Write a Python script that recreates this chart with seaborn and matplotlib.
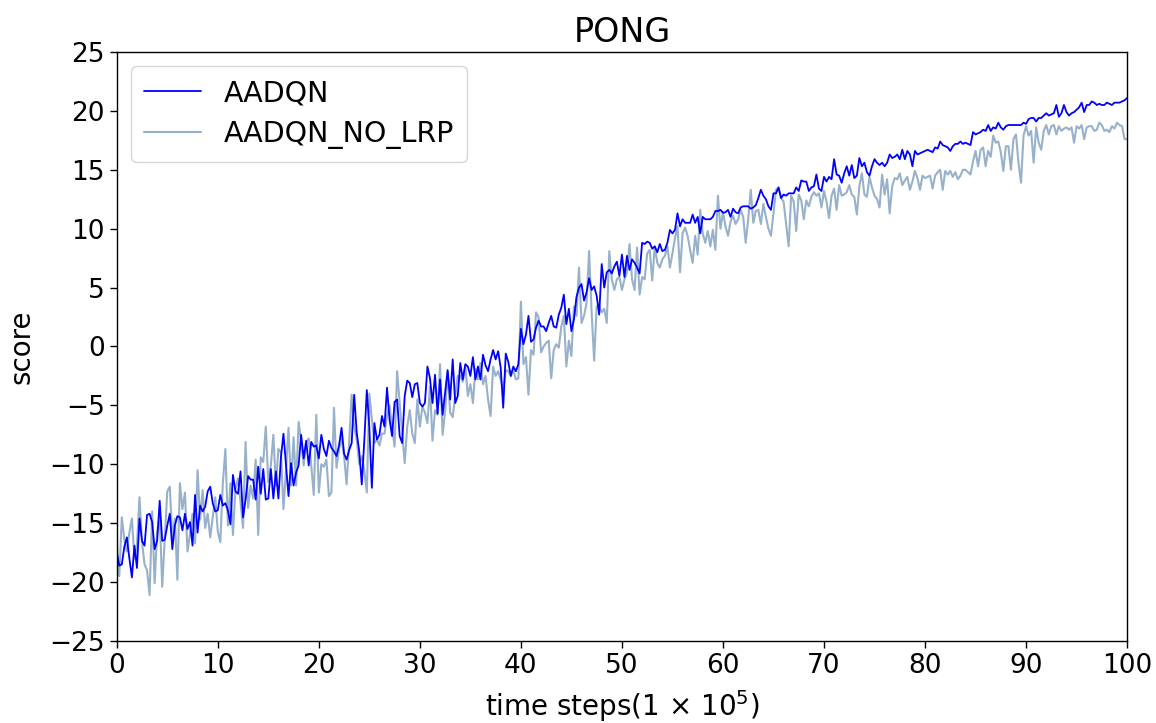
import numpy as np
import pandas as pd
import matplotlib
matplotlib.use("Agg")
import matplotlib.pyplot as plt
import seaborn as sns

# time steps (x 1e5), sampled every 0.25
steps = np.arange(401) * 0.25

# AADQN scores, by 20-step segment
aadqn_0_20 = [-17.5, -18.6, -18.5, -17.0, -16.2, -18.0, -19.6, -16.9, -18.8, -14.6,
              -16.5, -16.9, -14.3, -14.2, -14.9, -17.2, -16.5, -13.1, -16.5, -16.4,
              -15.2, -14.2, -17.2, -15.2, -14.4, -14.5, -15.6, -14.2, -15.5, -14.9,
              -16.9, -12.6, -15.8, -13.5, -14.0, -13.6, -12.3, -11.9, -13.3, -14.0,
              -13.9, -12.6, -13.5, -13.3, -13.9, -15.1, -10.9, -12.3, -12.5, -10.6,
              -14.5, -13.0, -11.0, -11.3, -11.3, -13.0, -10.2, -12.5, -10.4, -13.0,
              -12.9, -10.4, -12.9, -10.6, -12.9, -9.4, -7.4, -10.0, -12.7, -9.9,
              -11.8, -10.7, -10.1, -7.5, -9.5, -8.0, -10.1, -8.1, -8.5, -8.4]
aadqn_20_40 = [-9.5, -7.5, -8.7, -9.3, -8.0, -8.6, -8.9, -9.3, -8.4, -6.9,
               -9.1, -9.6, -8.8, -8.2, -4.1, -7.3, -8.9, -11.7, -8.0, -3.7,
               -6.9, -12.0, -6.5, -7.9, -7.5, -5.9, -6.8, -3.5, -6.2, -7.6,
               -4.7, -4.5, -7.6, -8.2, -4.2, -2.9, -3.1, -4.3, -3.2, -3.1,
               -4.8, -5.1, -4.8, -1.7, -2.7, -4.8, -2.4, -5.7, -2.8, -5.8,
               -3.9, -2.0, -4.5, -1.1, -4.8, -4.2, -1.4, -2.8, -1.5, -1.7,
               -2.5, -0.9, -2.8, -1.7, -2.8, -0.7, -1.6, -2.1, -1.1, -0.3,
               -1.1, -0.4, -1.8, -5.2, -0.6, -1.3, -2.5, -1.7, -2.1, -1.5]
aadqn_40_60 = [1.5, 0.2, 1.0, 2.6, 0.4, 0.6, 1.6, 2.2, 1.7, 1.7,
               1.3, 2.0, 2.6, 1.7, 1.6, 2.7, 3.3, 4.4, 1.9, 3.2,
               1.3, 2.3, 4.2, 5.0, 5.3, 3.9, 4.6, 5.8, 4.8, 5.1,
               4.3, 2.7, 7.0, 5.0, 6.3, 6.5, 6.2, 6.8, 7.2, 6.0,
               7.8, 5.9, 7.7, 6.5, 7.4, 7.1, 6.7, 6.2, 8.8, 8.7,
               8.9, 8.8, 8.3, 8.5, 8.0, 8.7, 8.1, 8.2, 8.8, 9.9,
               9.6, 9.9, 11.3, 10.2, 10.8, 10.5, 10.5, 10.5, 11.2, 10.5,
               11.0, 9.6, 11.0, 10.8, 10.8, 10.8, 11.0, 11.5, 11.5, 11.6]
aadqn_60_80 = [11.35, 11.4, 11.6, 11.0, 11.7, 11.4, 11.3, 11.8, 11.9, 11.9,
               11.9, 11.7, 11.8, 12.0, 12.6, 13.3, 12.8, 12.5, 11.9, 11.6,
               13.0, 13.0, 13.5, 12.6, 12.9, 12.8, 13.0, 13.0, 13.0, 13.5,
               13.2, 14.1, 14.0, 14.0, 13.2, 13.5, 13.6, 14.6, 13.4, 13.2,
               14.4, 14.0, 14.4, 14.2, 15.9, 14.6, 14.5, 13.9, 14.7, 15.3,
               14.5, 15.4, 14.3, 14.5, 16.0, 15.3, 15.6, 14.8, 14.5, 15.3,
               15.9, 15.6, 15.4, 15.6, 15.3, 15.6, 16.3, 16.0, 16.1, 16.3,
               15.9, 16.7, 15.9, 16.6, 16.3, 15.3, 16.6, 16.3, 16.4, 16.5]
aadqn_80_100 = [16.6, 16.7, 16.6, 16.5, 16.9, 16.8, 17.4, 17.1, 17.0, 16.9,
                16.6, 17.0, 17.2, 17.2, 17.4, 17.2, 17.3, 17.2, 17.1, 18.2,
                18.0, 18.1, 18.2, 18.4, 18.3, 18.8, 18.3, 18.6, 18.5, 19.0,
                18.6, 18.4, 18.7, 18.8, 18.8, 18.8, 18.8, 18.8, 18.8, 19.0,
                18.9, 19.3, 19.4, 19.4, 19.1, 19.4, 19.4, 19.6, 19.8, 19.6,
                19.7, 19.8, 20.5, 19.5, 19.8, 20.5, 19.9, 19.6, 19.8, 19.9,
                20.1, 20.3, 20.7, 19.9, 20.5, 20.5, 20.8, 20.7, 20.5, 20.6,
                20.5, 20.5, 20.7, 20.6, 20.5, 20.7, 20.7, 20.7, 20.8, 20.9,
                21.1]

# AADQN_NO_LRP scores, by 20-step segment
nolrp_0_20 = [-16.6, -19.5, -14.5, -16.4, -17.4, -15.8, -14.6, -18.0, -16.9, -12.8,
              -16.6, -18.5, -19.0, -21.1, -14.0, -20.1, -15.7, -14.3, -20.4, -16.3,
              -12.3, -11.9, -16.3, -14.6, -19.8, -11.6, -13.8, -12.4, -17.4, -15.9,
              -14.2, -16.7, -10.5, -14.7, -12.2, -15.4, -14.2, -16.2, -14.5, -12.8,
              -15.7, -16.6, -11.6, -8.7, -15.2, -11.6, -16.0, -12.1, -11.2, -13.2,
              -15.4, -8.1, -13.7, -11.8, -12.9, -9.6, -16.0, -9.4, -9.8, -6.8,
              -11.5, -10.1, -7.5, -11.8, -8.7, -9.0, -13.8, -10.5, -6.9, -11.8,
              -7.7, -11.8, -6.4, -8.0, -10.1, -8.1, -7.8, -10.1, -12.6, -5.8]
nolrp_20_40 = [-12.4, -10.0, -10.2, -9.6, -12.7, -12.4, -5.2, -10.3, -8.7, -7.8,
               -9.3, -11.7, -8.2, -4.1, -6.8, -7.9, -10.0, -9.3, -10.5, -12.4,
               -4.0, -6.2, -8.2, -7.9, -8.4, -7.4, -7.4, -5.9, -5.0, -6.9,
               -8.5, -2.1, -4.8, -7.3, -9.9, -6.8, -5.4, -7.4, -8.2, -4.5,
               -6.8, -5.1, -5.6, -6.5, -3.4, -8.0, -5.4, -5.8, -1.5, -7.5,
               -5.5, -2.1, -5.6, -6.0, -4.2, -2.5, -2.5, -3.0, -1.7, -4.2,
               -3.2, -4.8, -1.9, -2.8, -1.4, -3.2, -2.5, -4.5, -5.9, -1.7,
               -2.5, -2.1, -2.8, -3.7, -2.0, -2.1, -2.5, -2.0, -2.8, -2.7]
nolrp_40_60 = [3.8, -1.5, -0.9, -4.1, -0.3, -0.7, 2.9, 2.5, -0.5, 0.0,
               0.3, 0.5, -2.7, -0.3, 0.2, -0.1, 1.7, 2.6, -1.7, 0.5,
               -0.8, 3.4, 2.6, 6.7, 2.0, 2.6, 3.7, 8.1, 2.9, -1.2,
               3.4, 3.4, 2.9, 3.2, 2.0, 8.1, 5.7, 4.8, 5.7, 5.9,
               4.8, 5.7, 6.3, 8.7, 5.7, 4.8, 8.4, 4.4, 5.9, 5.7,
               7.9, 8.2, 5.6, 8.5, 7.1, 6.7, 7.4, 7.7, 8.5, 6.7,
               7.9, 9.2, 10.2, 6.3, 9.6, 10.1, 9.4, 8.2, 7.1, 9.4,
               7.8, 11.6, 9.6, 8.8, 9.8, 8.5, 9.9, 8.2, 12.8, 10.0]
nolrp_60_80 = [11.4, 10.2, 9.4, 10.6, 11.1, 10.4, 10.8, 11.6, 11.0, 8.8,
               10.8, 13.3, 10.5, 11.5, 11.6, 10.4, 12.1, 11.0, 10.0, 9.4,
               11.3, 13.3, 13.5, 12.6, 12.3, 10.4, 8.5, 12.8, 12.3, 9.8,
               12.9, 12.4, 10.8, 12.4, 11.9, 12.7, 13.1, 12.8, 13.0, 11.8,
               13.2, 12.3, 10.9, 12.8, 13.4, 11.6, 13.7, 12.8, 12.9, 13.1,
               13.7, 12.9, 12.7, 11.2, 13.6, 14.7, 12.9, 12.7, 14.4, 13.5,
               12.8, 12.5, 11.8, 14.6, 12.9, 14.2, 11.3, 13.6, 14.3, 14.2,
               14.7, 13.7, 14.1, 14.4, 13.3, 14.0, 14.9, 14.3, 13.3, 14.5]
nolrp_80_100 = [14.3, 14.4, 14.5, 13.4, 14.5, 14.8, 15.0, 13.3, 14.9, 14.6,
                14.9, 14.4, 14.8, 14.2, 14.5, 15.0, 15.0, 14.8, 14.6, 15.7,
                16.6, 15.3, 16.7, 16.9, 15.3, 16.6, 16.1, 17.9, 17.3, 17.4,
                16.5, 14.9, 17.0, 17.0, 15.0, 17.6, 18.0, 15.6, 13.9, 17.9,
                18.7, 17.9, 18.3, 15.6, 18.6, 17.3, 16.7, 18.3, 18.8, 18.0,
                18.7, 18.8, 18.0, 18.7, 18.3, 18.5, 18.6, 18.4, 18.6, 17.3,
                18.7, 18.5, 18.8, 17.6, 18.6, 18.7, 18.7, 18.3, 18.4, 19.0,
                18.8, 18.3, 18.4, 18.2, 18.7, 18.5, 19.0, 18.8, 18.7, 17.6,
                17.6]

aadqn = aadqn_0_20 + aadqn_20_40 + aadqn_40_60 + aadqn_60_80 + aadqn_80_100
nolrp = nolrp_0_20 + nolrp_20_40 + nolrp_40_60 + nolrp_60_80 + nolrp_80_100

x_ticks = list(range(0, 101, 10))
y_ticks = list(range(-25, 26, 5))

sns.set_theme(style="ticks")
plt.rcParams['font.family'] = ['DejaVu Sans']
plt.rcParams['text.color'] = 'black'
plt.rcParams['axes.labelcolor'] = 'black'
plt.rcParams['xtick.color'] = 'black'
plt.rcParams['ytick.color'] = 'black'
plt.rcParams['mathtext.fontset'] = 'dejavusans'

fig = plt.figure(figsize=(11.56, 7.23), dpi=100)
ax = fig.add_axes([0.101, 0.1134, 0.874, 0.8147])

df_a = pd.DataFrame({"step": steps, "score": aadqn})
df_n = pd.DataFrame({"step": steps, "score": nolrp})

sns.lineplot(data=df_n, x="step", y="score", ax=ax, color="#98b1ca",
             linewidth=1.5, label="AADQN_NO_LRP")
sns.lineplot(data=df_a, x="step", y="score", ax=ax, color="#0000ff",
             linewidth=1.3, label="AADQN")

ax.set_xlim(0, 100)
ax.set_ylim(-25, 25)
ax.set_xticks(x_ticks)
ax.set_yticks(y_ticks)
ax.tick_params(axis="both", labelsize=19, length=5, width=1, color="black",
               direction="out", labelcolor="black")
for s in ax.spines.values():
    s.set_color("black")
    s.set_linewidth(1.0)

ax.set_title("PONG", fontsize=24, pad=7, color="black")
ax.set_xlabel("time steps(1 × 10$^5$)", fontsize=20, color="black", labelpad=7)
ax.set_ylabel("score", fontsize=20, color="black", labelpad=10)

handles, labels = ax.get_legend_handles_labels()
order = [labels.index("AADQN"), labels.index("AADQN_NO_LRP")]
leg = ax.legend([handles[i] for i in order], [labels[i] for i in order],
                loc="upper left", fontsize=20.5, handlelength=2.0, handletextpad=0.8,
                frameon=True, borderpad=0.45, labelspacing=0.45)
for t in leg.get_texts():
    t.set_color("black")

fig.savefig("out.png", dpi=100)
